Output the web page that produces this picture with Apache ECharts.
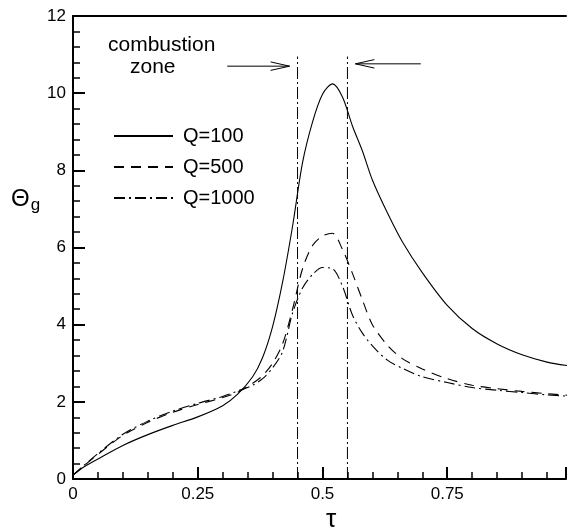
<!DOCTYPE html>
<html>
<head>
<meta charset="utf-8">
<script src="https://cdn.jsdelivr.net/npm/echarts@6/dist/echarts.min.js"></script>
<style>html,body{margin:0;padding:0;background:#fff;}#c{width:569px;height:531px;}</style>
</head>
<body>
<div id="c"></div>
<script>
const tau   = [0, 0.02, 0.05, 0.1, 0.15, 0.2, 0.25, 0.3, 0.33, 0.36, 0.38, 0.40, 0.42, 0.44, 0.46, 0.48, 0.50, 0.52, 0.54, 0.56, 0.58, 0.60, 0.63, 0.66, 0.70, 0.75, 0.80, 0.85, 0.90, 0.95, 0.99];
const q100  = [0.1, 0.3, 0.52, 0.87, 1.15, 1.39, 1.61, 1.90, 2.20, 2.65, 3.15, 3.95, 5.1, 6.55, 8.2, 9.25, 9.97, 10.24, 9.9, 9.15, 8.5, 7.75, 6.9, 6.15, 5.35, 4.5, 3.9, 3.5, 3.22, 3.03, 2.94];
const q500  = [0.1, 0.32, 0.64, 1.13, 1.47, 1.73, 1.93, 2.11, 2.25, 2.48, 2.68, 3.0, 3.5, 4.4, 5.45, 6.05, 6.3, 6.37, 5.95, 5.33, 4.64, 4.0, 3.47, 3.12, 2.85, 2.6, 2.43, 2.34, 2.27, 2.21, 2.17];
const q1000 = [0.1, 0.33, 0.66, 1.16, 1.5, 1.76, 1.96, 2.14, 2.28, 2.43, 2.6, 2.88, 3.3, 4.3, 4.95, 5.3, 5.48, 5.45, 5.0, 4.25, 3.78, 3.45, 3.08, 2.87, 2.65, 2.5, 2.37, 2.3, 2.24, 2.18, 2.15];
const seriesNames = ['Q=100', 'Q=500', 'Q=1000'];
const xTickLabels = [0, 0.25, 0.5, 0.75];
const zoneBounds = [0.45, 0.55];
const zoneTop = 10.95;
const arrowLeft = [[0.309, 10.7], [0.434, 10.7]];
const arrowRight = [[0.697, 10.76], [0.566, 10.76]];
const annotationLines = ['combustion', 'zone'];

const pair = (ys) => tau.map((t, i) => [t, ys[i]]);
function head(shaft) {
  const tip = shaft[1];
  const dir = Math.sign(shaft[1][0] - shaft[0][0]);
  const dx = 0.038 * dir, dy = 0.11;
  return [[tip[0] - dx, tip[1] + dy], tip, [tip[0] - dx, tip[1] - dy]];
}
const aux = (data, dash) => ({
  type: 'line', data: data, showSymbol: false, symbol: 'none', silent: true,
  lineStyle: {color: '#000', width: 1, type: dash || 'solid'}, z: 1
});
const FONT = '"Liberation Sans", Arial, sans-serif';

const chart = echarts.init(document.getElementById('c'), null, {renderer: 'canvas'});
chart.setOption({
  animation: false,
  backgroundColor: '#fff',
  grid: {left: 73, right: 0, top: 16, bottom: 52, containLabel: false},
  legend: {
    orient: 'vertical', left: 108, top: 121,
    itemWidth: 59, itemHeight: 20, itemGap: 11,
    data: seriesNames,
    itemStyle: {opacity: 0, borderWidth: 0, color: 'transparent'},
    textStyle: {fontFamily: 'Liberation Sans, Arial, sans-serif', fontSize: 20, color: '#000', padding: [0, 0, 0, 5]}
  },
  xAxis: [{
    type: 'value', min: 0, max: 0.988, interval: 0.25,
    axisLine: {show: true, lineStyle: {color: '#000', width: 2}},
    axisTick: {show: true, inside: true, length: 12, lineStyle: {color: '#000', width: 2}},
    minorTick: {show: true, splitNumber: 5, length: 7, lineStyle: {color: '#000', width: 1.5}},
    splitLine: {show: false},
    axisLabel: {
      color: '#000', fontSize: 17, fontFamily: 'Liberation Sans, Arial, sans-serif', margin: 7,
      formatter: v => xTickLabels.some(t => Math.abs(t - v) < 1e-9) ? String(v) : ''
    }
  }, {
    type: 'value', position: 'top', min: 0, max: 0.988,
    axisLine: {show: true, onZero: false, lineStyle: {color: '#000', width: 2}},
    axisTick: {show: false}, axisLabel: {show: false}, splitLine: {show: false}
  }],
  yAxis: {
    type: 'value', min: 0, max: 12, interval: 2,
    axisLine: {show: true, lineStyle: {color: '#000', width: 2}},
    axisTick: {show: true, inside: true, length: 12, lineStyle: {color: '#000', width: 2}},
    minorTick: {show: true, splitNumber: 5, length: 7, lineStyle: {color: '#000', width: 1.5}},
    splitLine: {show: false},
    axisLabel: {color: '#000', fontSize: 17, fontFamily: 'Liberation Sans, Arial, sans-serif', margin: 7}
  },
  graphic: [
    {type: 'text', left: 108, top: 35, style: {text: annotationLines[0], font: '21px ' + FONT, fill: '#000'}},
    {type: 'text', left: 130, top: 57, style: {text: annotationLines[1], font: '21px ' + FONT, fill: '#000'}},
    {type: 'text', left: 11, top: 187, style: {
      text: '{a|Θ}{b|g}',
      rich: {
        a: {fontSize: 24, fontFamily: 'Liberation Sans, Arial, sans-serif', fill: '#000', color: '#000'},
        b: {fontSize: 17, fontFamily: 'Liberation Sans, Arial, sans-serif', fill: '#000', color: '#000', padding: [13, 0, 0, 1]}
      }
    }},
    {type: 'text', left: 326, top: 507, style: {text: 'τ', font: '26px ' + FONT, fill: '#000'}}
  ],
  series: [
    {name: seriesNames[0], type: 'line', data: pair(q100), showSymbol: false, symbol: 'none', smooth: 0.3,
     lineStyle: {color: '#000', width: 1.1, type: 'solid'}, itemStyle: {color: '#000'}, z: 3},
    {name: seriesNames[1], type: 'line', data: pair(q500), showSymbol: false, symbol: 'none', smooth: 0.3,
     lineStyle: {color: '#000', width: 1.1, type: [10, 7]}, itemStyle: {color: '#000'}, z: 3},
    {name: seriesNames[2], type: 'line', data: pair(q1000), showSymbol: false, symbol: 'none', smooth: 0.3,
     lineStyle: {color: '#000', width: 1.1, type: [11, 4, 2, 4]}, itemStyle: {color: '#000'}, z: 3},
    aux([[zoneBounds[0], 0], [zoneBounds[0], zoneTop]], [12, 3, 2, 3]),
    aux([[zoneBounds[1], 0], [zoneBounds[1], zoneTop]], [12, 3, 2, 3]),
    aux(arrowLeft), aux(head(arrowLeft)),
    aux(arrowRight), aux(head(arrowRight))
  ]
});
</script>
</body>
</html>
